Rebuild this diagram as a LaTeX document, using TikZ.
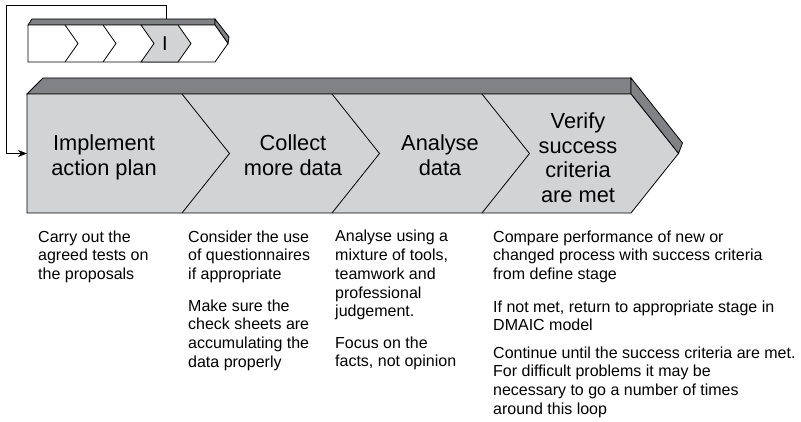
\documentclass[tikz,border=0pt]{standalone}
\usepackage{fontspec}
\setmainfont{Liberation Sans}
\usetikzlibrary{arrows.meta,positioning,calc}

\definecolor{facegrey}{HTML}{D2D3D5}
\definecolor{topgrey}{HTML}{808285}

\begin{document}
\begin{tikzpicture}[
    x=1pt, y=-1pt,
    face/.style={draw, fill=facegrey, line width=0.8pt},
    topface/.style={draw, fill=topgrey, line width=0.8pt},
    whiteface/.style={draw, fill=white, line width=0.8pt},
    stagelabel/.style={font=\fontsize{21.8}{24.5}\selectfont, align=center, inner sep=0pt},
    smalllabel/.style={font=\fontsize{20}{24}\selectfont, inner sep=0pt},
    note/.style={font=\fontsize{16}{18.7}\selectfont, align=left, anchor=base west, inner sep=0pt},
    looparrow/.style={line width=0.8pt, -{Stealth[length=9pt,width=7pt]}}
]
\useasboundingbox (0,0) rectangle (801,422);

% Small DMAIC bar
\draw[topface] (28,25) -- (32,19) -- (215,19) -- (215,25) -- cycle;
\draw[topface] (215,25) -- (215,19) -- (229,37) -- (228,43.5) -- cycle;
\draw[whiteface] (28,25) -- (215,25) -- (228,43.5) -- (215,62) -- (28,62) -- cycle;
\draw[face] (141,25) -- (178,25) -- (191,43.5) -- (178,62) -- (141,62) -- (154,43.5) -- cycle;
\foreach \x in {65,103}
  \draw[line width=0.8pt] (\x,25) -- (\x+13,43.5) -- (\x,62);
\node[smalllabel] (improve) at (165,43.5) {I};

% Large bar
\draw[topface] (27,94) -- (43,78) -- (631,78) -- (631,94) -- cycle;
\draw[topface] (631,94) -- (631,78) -- (682.5,143) -- (678.5,153.5) -- cycle;
\draw[face] (27,94) -- (631,94) -- (678.5,153.5) -- (631,213) -- (27,213) -- cycle;
\foreach \x in {182,332,482}
  \draw[line width=0.8pt] (\x,94) -- (\x+47.5,153.5) -- (\x,213);

% Stage labels
\node[stagelabel] (implement) at (104,157.5) {Implement\\action plan};
\node[stagelabel] (collect) at (293,155) {Collect\\more data};
\node[stagelabel] (analyse) at (440,155) {Analyse\\data};
\node[stagelabel] (verify) at (578,157.5) {Verify\\success\\criteria\\are met};

% Loop back
\coordinate (looptop) at (166,18.6);
\coordinate (loopcorner) at (6,5);
\coordinate (loopentry) at (27,153.5);
\draw[looparrow] (looptop) |- (loopcorner) |- (loopentry);

% Notes (placed at the baseline of their last line)
\node[note] (carry) at (38,279.4) {Carry out the\\agreed tests on\\the proposals};
\node[note] (consider) at (188,279.4) {Consider the use\\of questionnaires\\if appropriate};
\node[note] (makesure) at (188,367.1) {Make sure the\\check sheets are\\accumulating the\\data properly};
\node[note] (analyseusing) at (335,316.8) {Analyse using a\\mixture of tools,\\teamwork and\\professional\\judgement.};
\node[note] (focus) at (335,366.7) {Focus on the\\facts, not opinion};
\node[note] (compare) at (493,279.4) {Compare performance of new or\\changed process with success criteria\\from define stage};
\node[note] (notmet) at (493,330.7) {If not met, return to appropriate stage in\\DMAIC model};
\node[note] (continue) at (493,414.1) {Continue until the success criteria are met.\\For difficult problems it may be\\necessary to go a number of times\\around this loop};

\end{tikzpicture}
\end{document}
